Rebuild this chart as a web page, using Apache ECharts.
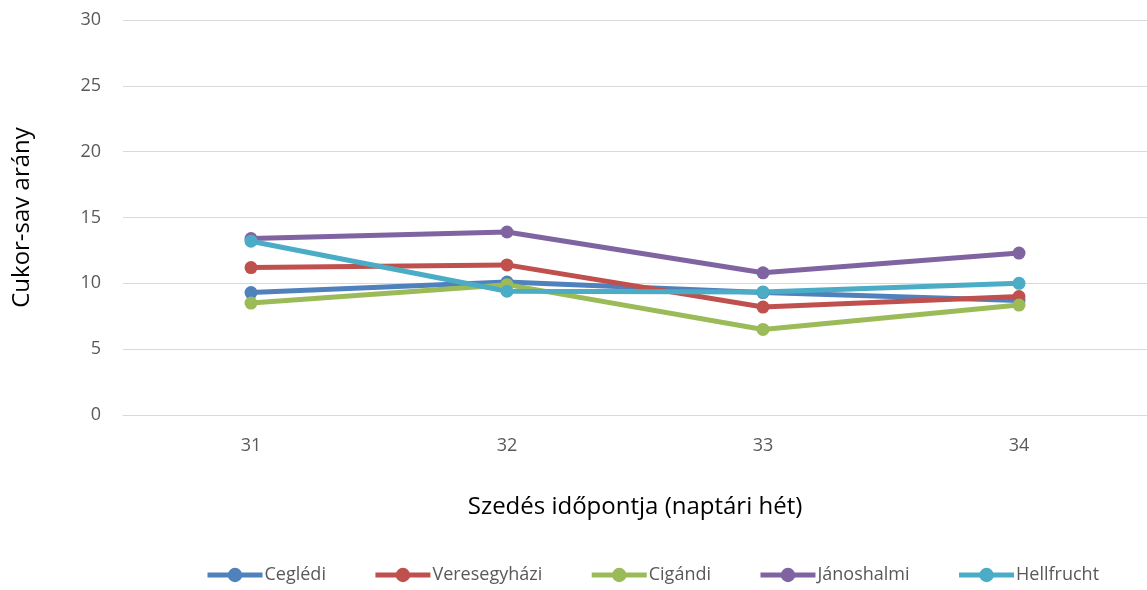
<!DOCTYPE html>
<html><head><meta charset="utf-8">
<script src="https://cdn.jsdelivr.net/npm/echarts@6/dist/echarts.min.js"></script>
<style>html,body{margin:0;padding:0;background:#fff}#c{width:1147px;height:590px}</style>
</head><body><div id="c"></div>
<script>
const categories = ['31', '32', '33', '34'];
const cegledi = [9.3, 10.1, 9.3, 8.7];
const veresegyhazi = [11.2, 11.4, 8.2, 9.0];
const cigandi = [8.5, 9.9, 6.5, 8.35];
const janoshalmi = [13.4, 13.9, 10.8, 12.3];
const hellfrucht = [13.2, 9.4, 9.35, 10.0];
const seriesNames = ['Ceglédi', 'Veresegyházi', 'Cigándi', 'Jánoshalmi', 'Hellfrucht'];
const colors = ['#4f81bd', '#c0504d', '#9bbb59', '#8064a2', '#4bacc6'];
const seriesData = [cegledi, veresegyhazi, cigandi, janoshalmi, hellfrucht];
const font = 'Open Sans';

const chart = echarts.init(document.getElementById('c'));
chart.setOption({
  animation: false,
  color: colors,
  textStyle: { fontFamily: font },
  grid: { left: 123, right: 0, top: 20, bottom: 175 },
  legend: {
    bottom: 1, left: 200,
    itemWidth: 55, itemHeight: 18, itemGap: 47,
    lineStyle: { width: 5 },
    textStyle: { fontFamily: font, fontSize: 18, color: '#595959', padding: [0, 0, 0, -3] },
    data: seriesNames
  },
  xAxis: {
    type: 'category', data: categories, boundaryGap: true,
    name: 'Szedés időpontja (naptári hét)', nameLocation: 'middle', nameGap: 80,
    nameTextStyle: { fontFamily: font, fontSize: 24, color: '#000' },
    axisLine: { lineStyle: { color: '#d9d9d9', width: 1 } },
    axisTick: { show: false },
    axisLabel: { fontSize: 18, color: '#595959', margin: 22 }
  },
  yAxis: {
    type: 'value', min: 0, max: 30, interval: 5,
    name: 'Cukor-sav arány', nameLocation: 'middle', nameGap: 89,
    nameTextStyle: { fontFamily: font, fontSize: 24, color: '#000' },
    axisLine: { show: false }, axisTick: { show: false },
    splitLine: { lineStyle: { color: '#d9d9d9', width: 1 } },
    axisLabel: { fontSize: 18, color: '#595959', margin: 22 }
  },
  series: seriesNames.map((n, i) => ({
    name: n, type: 'line', data: seriesData[i],
    symbol: 'circle', symbolSize: 13,
    lineStyle: { width: 5, color: colors[i] },
    itemStyle: { color: colors[i] }
  }))
});
</script></body></html>
